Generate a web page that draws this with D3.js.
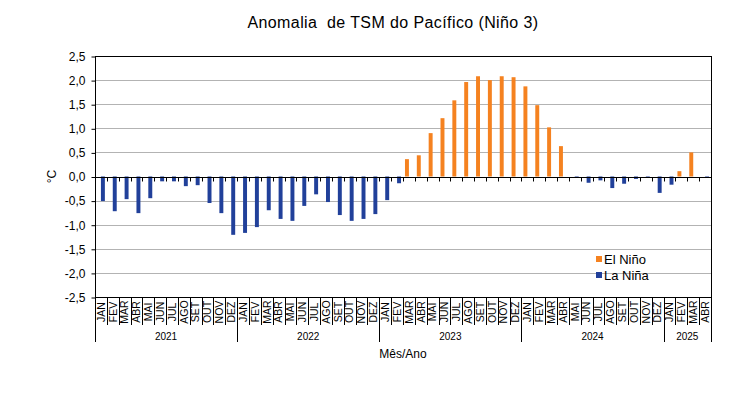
<!DOCTYPE html>
<html>
<head>
<meta charset="utf-8">
<script src="https://cdn.jsdelivr.net/npm/d3@7"></script>
<style>
	body { margin: 0; background: #fff; }
	text { font-family: Arial, "Liberation Sans", sans-serif; fill: #000; }
</style>
</head>
<body>
<div id="chart"></div>
<script>
var years = ["2021", "2022", "2023", "2024", "2025"];
var monthNames = ["JAN", "FEV", "MAR", "ABR", "MAI", "JUN", "JUL", "AGO", "SET", "OUT", "NOV", "DEZ"];
var monthsPerYear = [12, 12, 12, 12, 4];

// null = no bar for that series in the month
var elNino = [
	null, null, null, null, null, null, null, null, null, null, null, null,
	null, null, null, null, null, null, null, null, null, null, null, null,
	null, null, 0.36, 0.44, 0.90, 1.21, 1.58, 1.96, 2.08, 2.00, 2.08, 2.06,
	1.87, 1.48, 1.02, 0.63, null, null, null, null, null, null, null, null,
	null, 0.11, 0.50, null
];
var laNina = [
	-0.51, -0.72, -0.47, -0.76, -0.45, -0.10, -0.10, -0.20, -0.18, -0.55, -0.76, -1.21,
	-1.17, -1.05, -0.70, -0.88, -0.92, -0.61, -0.37, -0.53, -0.80, -0.92, -0.88, -0.78,
	-0.49, -0.14, null, null, null, null, null, null, null, null, null, null,
	null, null, null, null, -0.03, -0.13, -0.08, -0.24, -0.15, -0.05, -0.03, -0.34,
	-0.17, null, null, -0.03
];
var yTicks = [-2.5, -2.0, -1.5, -1.0, -0.5, 0, 0.5, 1.0, 1.5, 2.0, 2.5];
var seriesNames = ["El Niño", "La Niña"];
var seriesColors = ["#f58220", "#21409a"];

var width = 744, height = 394;
var plot = {left: 95, right: 711, top: 56, bottom: 297};

var categories = [];
years.forEach(function(yr, yi){
	for(var m = 0; m < monthsPerYear[yi]; m++){
		categories.push({year: yr, month: monthNames[m]});
	}
});

var svg = d3.select("#chart").append("svg")
	.attr("width", width)
	.attr("height", height);

var x = d3.scaleBand()
	.domain(d3.range(categories.length))
	.range([plot.left, plot.right])
	.padding(0);

var xSeries = d3.scaleBand()
	.domain(seriesNames)
	.range([0, x.bandwidth()])
	.paddingInner(0)
	.paddingOuter(0.5);

var y = d3.scaleLinear()
	.domain([-2.5, 2.5])
	.range([plot.bottom, plot.top]);

// gridlines
svg.append("g")
	.selectAll("line")
	.data(yTicks.filter(function(d){ return d != 0 && Math.abs(d) != 2.5; }))
	.enter()
	.append("line")
	.attr("x1", plot.left)
	.attr("x2", plot.right)
	.attr("y1", function(d){ return Math.round(y(d)) + 0.5; })
	.attr("y2", function(d){ return Math.round(y(d)) + 0.5; })
	.attr("stroke", "#b3b3b3")
	.attr("stroke-width", 1);

// bars
var seriesData = [elNino, laNina];
seriesData.forEach(function(values, si){
	svg.append("g")
		.selectAll("rect")
		.data(values.map(function(v, i){ return {i: i, v: v}; }).filter(function(d){ return d.v != null; }))
		.enter()
		.append("rect")
		.attr("x", function(d){ return x(d.i) + xSeries(seriesNames[si]); })
		.attr("width", xSeries.bandwidth())
		.attr("y", function(d){ return Math.min(y(d.v), y(0)); })
		.attr("height", function(d){ return Math.abs(y(d.v) - y(0)); })
		.attr("fill", seriesColors[si]);
});

// zero axis with small ticks
var zeroY = Math.round(y(0)) + 0.5;
svg.append("line")
	.attr("x1", plot.left).attr("x2", plot.right)
	.attr("y1", zeroY).attr("y2", zeroY)
	.attr("stroke", "#000");
svg.append("g")
	.selectAll("line")
	.data(d3.range(1, categories.length))
	.enter()
	.append("line")
	.attr("x1", function(d){ return Math.round(x(d)) + 0.5; })
	.attr("x2", function(d){ return Math.round(x(d)) + 0.5; })
	.attr("y1", zeroY)
	.attr("y2", zeroY + 4)
	.attr("stroke", "#000");

// plot frame
svg.append("rect")
	.attr("x", plot.left + 0.5)
	.attr("y", plot.top + 0.5)
	.attr("width", plot.right - plot.left)
	.attr("height", plot.bottom - plot.top)
	.attr("fill", "none")
	.attr("stroke", "#000");

// y axis
var yAxis = d3.axisLeft(y)
	.tickValues(yTicks)
	.tickSize(4)
	.tickPadding(6)
	.tickFormat(function(d){ return d3.format(".1f")(d).replace(".", ",").replace("−", "-"); });

var yAxisG = svg.append("g")
	.attr("transform", "translate(" + (plot.left + 0.5) + ",0.5)")
	.call(yAxis);
yAxisG.select(".domain").remove();
yAxisG.selectAll("text")
	.style("font-size", "12px")
	.style("font-family", "Arial, 'Liberation Sans', sans-serif");

svg.append("text")
	.attr("transform", "translate(52," + y(0) + ") rotate(-90)")
	.attr("text-anchor", "middle")
	.attr("dy", "0.35em")
	.style("font-size", "12px")
	.text("°C");

// month labels and separators
var labelTop = plot.bottom;
svg.append("g")
	.selectAll("line")
	.data(d3.range(0, categories.length + 1))
	.enter()
	.append("line")
	.attr("x1", function(d){ return Math.round(d == categories.length ? plot.right : x(d)) + 0.5; })
	.attr("x2", function(d){ return Math.round(d == categories.length ? plot.right : x(d)) + 0.5; })
	.attr("y1", labelTop)
	.attr("y2", 325)
	.attr("stroke", "#000");

svg.append("g")
	.selectAll("text")
	.data(categories)
	.enter()
	.append("text")
	.attr("transform", function(d, i){ return "translate(" + (x(i) + x.bandwidth() / 2) + ",312) rotate(-90)"; })
	.attr("text-anchor", "middle")
	.attr("dy", "0.36em")
	.style("font-size", "10.5px")
	.text(function(d){ return d.month; });

// year groups
var yearStart = [];
var acc = 0;
monthsPerYear.forEach(function(n){ yearStart.push(acc); acc += n; });
yearStart.push(acc);

svg.append("g")
	.selectAll("line")
	.data(yearStart)
	.enter()
	.append("line")
	.attr("x1", function(d){ return Math.round(d == categories.length ? plot.right : x(d)) + 0.5; })
	.attr("x2", function(d){ return Math.round(d == categories.length ? plot.right : x(d)) + 0.5; })
	.attr("y1", labelTop)
	.attr("y2", 342)
	.attr("stroke", "#000");

svg.append("g")
	.selectAll("text")
	.data(years)
	.enter()
	.append("text")
	.attr("x", function(d, i){
		var a = x(yearStart[i]);
		var b = yearStart[i + 1] == categories.length ? plot.right : x(yearStart[i + 1]);
		return (a + b) / 2;
	})
	.attr("y", 340)
	.attr("text-anchor", "middle")
	.style("font-size", "10px")
	.text(function(d){ return d; });

svg.append("text")
	.attr("x", (plot.left + plot.right) / 2)
	.attr("y", 358)
	.attr("text-anchor", "middle")
	.style("font-size", "12px")
	.text("Mês/Ano");

// title
svg.append("text")
	.attr("x", 393)
	.attr("y", 28)
	.attr("text-anchor", "middle")
	.style("font-size", "16px")
	.style("letter-spacing", "0.4px")
	.style("white-space", "pre")
	.text("Anomalia  de TSM do Pacífico (Niño 3)");

// legend
var legend = svg.append("g")
	.selectAll("g")
	.data(seriesNames)
	.enter()
	.append("g")
	.attr("transform", function(d, i){ return "translate(596," + (256 + i * 16) + ")"; });
legend.append("rect")
	.attr("width", 6)
	.attr("height", 6)
	.attr("fill", function(d, i){ return seriesColors[i]; });
legend.append("text")
	.attr("x", 8)
	.attr("y", 3)
	.attr("dy", "0.35em")
	.style("font-size", "13px")
	.text(function(d){ return d; });
</script>
</body>
</html>
